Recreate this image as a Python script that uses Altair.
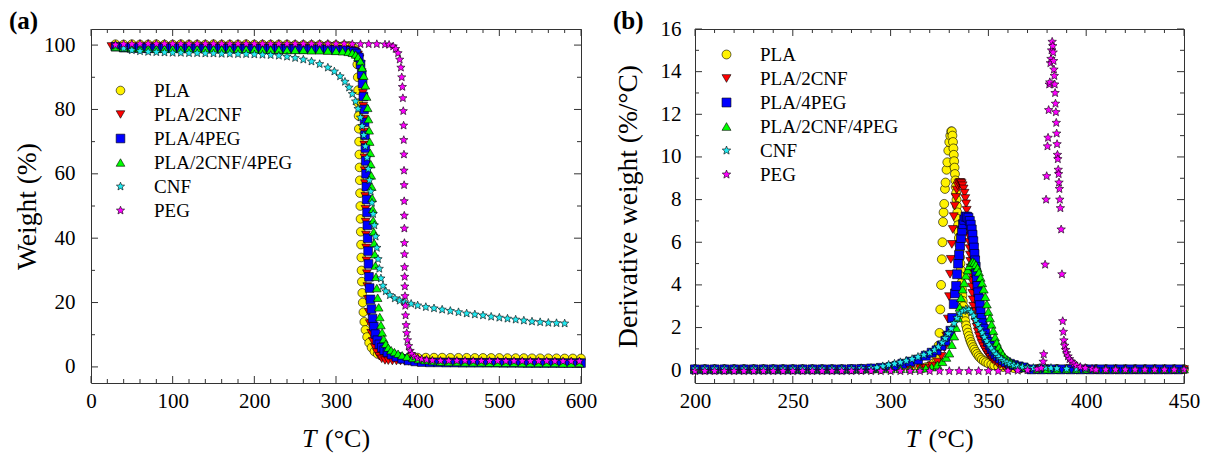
import altair as alt
import pandas as pd

FONT = "Liberation Serif"
SERIES = ["PLA", "PLA/2CNF", "PLA/4PEG", "PLA/2CNF/4PEG", "CNF", "PEG"]
COLORS = ["#FFF200", "#FF0000", "#0000FF", "#00FF00", "#22E8F0", "#FF00FF"]
STAR = "M0,-1L0.26,-0.36L0.951,-0.309L0.42,0.137L0.588,0.809L0,0.44L-0.588,0.809L-0.42,0.137L-0.951,-0.309L-0.26,-0.36Z"
SHAPES = ["circle", "triangle-down", "square", "triangle-up", STAR, STAR]

# ---------------- panel (a): TGA weight (%) vs T ----------------
A_PLA = [(30,100.3),(40,100.2),(50,100.3),(60,100.2),(70,100.2),(80,100.3),(90,100.2),(100,100.2),(110,100.3),(120,100.2),(130,100.2),(140,100.2),(150,100.3),(160,100.2),(170,100.2),(180,100.2),(190,100.3),(200,100.2),(210,100.2),(220,100.2),(230,100.2),(240,100.2),(250,100.1),(260,100.1),(270,100.1),(280,100.1),(290,100.0),(300,100.0),(310,99.9),
 (316,99.8),(320,99.5),(323,98.8),(325,97),(326,94),(326.6,90),(327,86),(327.3,82),(327.6,78),(327.9,74),(328.2,70),(328.5,66),(328.8,62),(329.1,58),(329.4,54),(329.7,50),(330,46),(330.3,42),(330.6,38),(330.9,34),(331.2,30),(331.6,26.5),(332.1,23),(332.7,20),(333.5,17),(334.6,14),(336,11.5),(338,9.3),(340.5,7.5),(343.5,6),(347,4.8),(351,4),(356,3.5),(362,3.2),(370,3.0),
 (380,2.95),(390,2.95),(400,2.9),(410,2.9),(420,2.9),(430,2.9),(440,2.85),(450,2.85),(460,2.85),(470,2.8),(480,2.8),(490,2.8),(500,2.8),(510,2.75),(520,2.75),(530,2.75),(540,2.7),(550,2.7),(560,2.7),(570,2.7),(580,2.65),(590,2.65),(600,2.65)]
A_2CNF = [(25,99.6),(35,99.3),(45,99.3),(55,99.3),(65,99.3),(75,99.3),(85,99.3),(95,99.2),(105,99.2),(115,99.2),(125,99.2),(135,99.2),(145,99.2),(155,99.2),(165,99.2),(175,99.1),(185,99.1),(195,99.1),(205,99.1),(215,99.1),(225,99.1),(235,99.0),(245,99.0),(255,99.0),(265,99.0),(275,98.9),(285,98.9),(295,98.8),(305,98.7),(313,98.6),
 (320,98.3),(324,97.8),(327,97),(329,95.8),(330.5,94),(331.5,91.5),(332.3,88.5),(333,85),(333.5,81),(334,77),(334.3,73),(334.6,69),(334.9,65),(335.2,61),(335.5,57),(335.8,53),(336.1,49),(336.4,45),(336.7,41),(337,37),(337.4,33),(337.8,29),(338.3,25),(339,21),(340,17),(341.3,13.5),(343,10.5),(345,8),(347.5,6),(350,4.5),(353,3.3),(356,2.5),(360,2.0),(364,1.9),(369,1.8),(374,1.8),(379,1.8),(384,1.7),(389,1.7),(394,1.7),(399,1.6),
 (410,1.5),(420,1.5),(430,1.5),(440,1.5),(450,1.4),(460,1.4),(470,1.4),(480,1.4),(490,1.4),(500,1.4),(510,1.3),(520,1.3),(530,1.3),(540,1.3),(550,1.3),(560,1.3),(570,1.3),(580,1.2),(590,1.2)]
A_4PEG = [(30,99.5),(40,99.2),(50,99.1),(60,99.1),(70,99.0),(80,99.0),(90,99.0),(100,99.0),(110,99.0),(120,99.0),(130,99.0),(140,98.9),(150,98.9),(160,98.9),(170,98.9),(180,98.9),(190,98.9),(200,98.9),(210,98.8),(220,98.8),(230,98.8),(240,98.8),(250,98.8),(260,98.7),(270,98.7),(280,98.7),(290,98.6),(300,98.5),(310,98.4),
 (318,98.2),(322,97.9),(325,97.4),(328,96.2),(330,94),(331.5,91),(332.6,88),(333.5,84),(334.3,80),(335,76),(335.5,72),(336,68),(336.4,64),(336.8,60),(337.2,56),(337.6,52),(338,48),(338.4,44),(338.8,40),(339.3,36),(339.8,32),(340.4,28),(341.2,24.5),(342.2,21),(343.4,18),(344.8,15),(346.4,12.5),(348.2,10.2),(350.5,8.3),(353,7),(356,6),(359,5.2),(363,4.5),(368,3.8),(374,3.1),(381,2.5),(389,2.0),(397,1.7),(405,1.5),
 (415,1.4),(425,1.4),(435,1.35),(445,1.35),(455,1.3),(465,1.3),(475,1.3),(485,1.3),(495,1.3),(505,1.25),(515,1.25),(525,1.25),(535,1.2),(545,1.2),(555,1.2),(565,1.2),(575,1.2),(585,1.2),(595,1.2),(600,1.2)]
A_2CNF4PEG = [(30,99.4),(40,99.2),(50,99.1),(60,99.0),(70,99.0),(80,98.9),(90,98.9),(100,98.9),(110,98.8),(120,98.8),(130,98.8),(140,98.8),(150,98.8),(160,98.7),(170,98.7),(180,98.7),(190,98.7),(200,98.7),(210,98.6),(220,98.6),(230,98.6),(240,98.5),(250,98.5),(260,98.5),(270,98.4),(280,98.4),(290,98.3),(300,98.2),(308,98.1),(315,97.9),
 (320,97.6),(324,97.1),(327,96.3),(330,95),(332,93),(334,90.5),(336,87.5),(337.5,84),(338.8,80.5),(339.8,77),(340.6,73.5),(341.3,70),(342,66.5),(342.6,63),(343.2,59.5),(343.8,56),(344.4,52.5),(345,49),(345.6,45.5),(346.2,42),(346.8,38.5),(347.5,35),(348.2,31.5),(349,28),(350,24.5),(351,21.5),(352.3,18.5),(353.6,15.5),(355,13),(356.5,10.7),(358.5,8.7),(361,7.2),(364,6),(367.5,5.2),(371.5,4.6),(376,4.1),(381,3.6),(387,3.2),(394,2.8),(401,2.4),(409,2.1),(418,1.8),
 (428,1.6),(438,1.5),(448,1.5),(458,1.4),(468,1.4),(478,1.4),(488,1.3),(498,1.3),(508,1.3),(518,1.3),(528,1.2),(538,1.2),(548,1.2),(558,1.2),(568,1.2),(578,1.1),(588,1.1),(598,1.1)]
A_CNF = [(30,99.8),(40,99.0),(50,98.4),(60,98.1),(70,97.9),(80,97.8),(90,97.7),(100,97.6),(110,97.6),(120,97.5),(130,97.5),(140,97.4),(150,97.4),(160,97.3),(170,97.3),(180,97.2),(190,97.2),(200,97.1),(210,97.0),(220,96.9),(230,96.7),(240,96.4),(250,96.0),(260,95.5),(270,94.9),(280,94.1),(290,93.0),(298,91.8),(305,90.3),(311,88.6),(316,86.8),(320,84.8),(324,82.5),(327,80.2),(330,77.5),(332,74.8),(334,72),(336,68.5),(338,65),(339.5,61.5),(341,58),(342.5,54.5),(344,51),(345.5,47.5),(347,44),(348.5,40.5),(350,37),(351.5,33.5),(353,30.5),(355,27.5),(357.5,25.2),(361,23.5),(366,22.3),(372,21.3),(378,20.6),(384,20.1),(392,19.6),(400,19.1),(410,18.6),(420,18.2),(430,17.8),(440,17.4),(450,17.0),(460,16.6),(470,16.3),(480,16.0),(490,15.6),(500,15.3),(510,15.0),(520,14.7),(530,14.4),(540,14.1),(550,13.9),(560,13.7),(570,13.6),(580,13.5)]
A_PEG = [(30,100.1),(40,100.3),(50,100.3),(60,100.4),(70,100.4),(80,100.4),(90,100.4),(100,100.4),(110,100.4),(120,100.4),(130,100.4),(140,100.4),(150,100.4),(160,100.4),(170,100.4),(180,100.4),(190,100.4),(200,100.4),(210,100.4),(220,100.4),(230,100.4),(240,100.4),(250,100.4),(260,100.4),(270,100.4),(280,100.4),(290,100.4),(300,100.4),(310,100.4),(320,100.3),(330,100.3),(340,100.3),(350,100.3),(360,100.2),
 (365,100.1),(370,99.6),(373,98.8),(376,97.5),(378,95.5),(379.5,93),(380.5,90),(381.3,87),(381.9,83.5),(382.4,79.5),(382.8,75),(383,70.5),(383.2,66),(383.3,61),(383.4,56.5),(383.5,51.5),(383.6,47),(383.7,43),(383.8,38.5),(383.9,35),(384,31),(384.1,28),(384.3,25),(384.5,22),(384.8,19),(385.2,16),(385.8,13),(386.6,10.5),(387.6,8.3),(389,6.5),(390.8,5),(393,4),(396,3.2),(400,2.7),(405,2.4),(411,2.2),(418,2.0),
 (428,1.9),(438,1.9),(448,1.9),(458,1.9),(468,1.85),(478,1.85),(488,1.85),(498,1.85),(508,1.8),(518,1.8),(528,1.8),(538,1.8),(548,1.8),(558,1.8),(568,1.75),(578,1.75),(588,1.75),(598,1.75)]

# ---------------- panel (b): DTG derivative weight (%/°C) vs T ----------------
B_PLA = [(200,0.05),(205,0.05),(210,0.05),(215,0.05),(220,0.05),(225,0.05),(230,0.05),(235,0.05),(240,0.05),(245,0.05),(250,0.05),(255,0.05),(260,0.05),(265,0.05),(270,0.05),(275,0.05),(280,0.05),(285,0.06),(290,0.06),(295,0.06),(300,0.07),(305,0.08),(310,0.09),(315,0.1),
 (318,0.14),(320,0.2),(322,0.32),(323.5,0.55),(324.5,1.15),(325,1.75),(325.4,2.85),(325.8,4.0),(326.2,5.2),(326.5,6.0),(326.8,6.95),(327.1,7.4),(327.4,7.8),(327.8,8.5),(328.1,8.8),(328.6,9.4),(329,9.75),(329.5,10.3),(330,10.7),(330.5,11.0),(331,11.2),
 (331.3,11.2),(331.6,11.0),(331.9,10.7),(332.1,10.4),(332.3,10.1),(332.5,9.8),(332.7,9.5),(332.9,9.2),(333.1,8.9),(333.3,8.6),(333.5,8.3),(333.7,8.0),(333.9,7.7),(334.1,7.4),(334.3,7.1),(334.5,6.8),(334.7,6.5),(334.9,6.2),(335.1,5.9),(335.3,5.6),(335.5,5.3),(335.7,5.0),(335.9,4.7),(336.1,4.4),(336.3,4.1),(336.5,3.8),(336.7,3.5),(336.9,3.25),(337.2,3.0),(337.5,2.75),(337.8,2.5),(338.2,2.3),(338.6,2.1),(339,1.93),(339.5,1.76),(340,1.6),(340.5,1.45),(341,1.32),(341.6,1.2),(342.2,1.08),(342.8,0.97),(343.5,0.86),(344.2,0.76),(345,0.66),(345.8,0.58),(346.7,0.5),(347.7,0.43),(348.8,0.37),(350,0.32),(351.5,0.27),(353,0.23),(355,0.19),(357.5,0.15),(360,0.12),(363,0.1),(366,0.08),
 (370,0.07),(375,0.06),(380,0.06),(385,0.06),(390,0.06),(395,0.05),(400,0.05),(405,0.05),(410,0.05),(415,0.05),(420,0.05),(425,0.05),(430,0.05),(435,0.05),(440,0.05),(445,0.05),(450,0.05)]
B_2CNF = [(200,0.03),(205,0.03),(210,0.03),(215,0.03),(220,0.03),(225,0.03),(230,0.03),(235,0.03),(240,0.03),(245,0.03),(250,0.03),(255,0.03),(260,0.03),(265,0.03),(270,0.03),(275,0.03),(280,0.03),(285,0.03),(290,0.04),(295,0.04),(300,0.04),(305,0.05),(310,0.06),(315,0.08),
 (318,0.1),(321,0.2),(324,0.38),(326,0.65),(327.5,1.05),(328.5,1.6),(329.3,2.4),(329.9,3.45),(330.4,4.5),(330.8,5.2),(331.3,5.9),(331.8,6.6),(332.3,7.2),(332.8,7.7),(333.3,8.1),(333.8,8.45),(334.3,8.65),(334.8,8.75),(335.3,8.8),(335.8,8.8),(336.3,8.75),(336.8,8.65),(337.3,8.5),(337.8,8.3),(338.2,8.05),(338.6,7.8),(338.9,7.5),(339.2,7.2),(339.5,6.9),(339.8,6.6),(340.0,6.3),(340.2,6.0),(340.4,5.7),(340.6,5.4),(340.8,5.1),(341.0,4.8),(341.2,4.5),(341.4,4.2),(341.6,3.9),(341.8,3.6),(342.0,3.3),(342.3,3.0),(342.6,2.75),(343.0,2.5),(343.5,2.25),(344.0,2.02),(344.6,1.8),(345.2,1.6),(345.9,1.42),(346.6,1.25),(347.4,1.1),(348.2,0.96),(349.1,0.83),(350,0.71),(351,0.6),(352.1,0.5),(353.3,0.41),(354.6,0.33),(356,0.27),(357.6,0.21),(359.4,0.16),(361.5,0.12),(364,0.09),(367,0.07),
 (370,0.03),(375,0.03),(380,0.03),(385,0.03),(390,0.03),(395,0.03),(400,0.03),(405,0.03),(410,0.03),(415,0.03),(420,0.03),(425,0.03),(430,0.03),(435,0.03),(440,0.03),(445,0.03),(450,0.03)]
B_4PEG = [(200,0.04),(205,0.04),(210,0.04),(215,0.04),(220,0.04),(225,0.04),(230,0.04),(235,0.04),(240,0.04),(245,0.04),(250,0.04),(255,0.04),(260,0.04),(265,0.04),(270,0.04),(275,0.04),(280,0.05),(285,0.06),(290,0.08),(295,0.11),(300,0.15),
 (303,0.2),(306,0.3),(310,0.4),(314,0.5),(318,0.68),(321,0.82),(323.5,0.93),(326,1.15),(328,1.38),(329.5,1.62),(330.6,1.85),(331.5,2.45),(332.3,3.1),(332.9,3.6),(333.5,3.95),(334,4.5),(334.5,5.0),(335,5.4),(335.5,5.85),(336,6.2),(336.5,6.55),(337,6.85),(337.6,7.05),(338.3,7.2),(339,7.2),(339.8,7.15),(340.5,7.0),(341,6.82),(341.5,6.6),(341.9,6.35),(342.3,6.05),(342.6,5.75),(342.9,5.45),(343.2,5.15),(343.5,4.85),(343.8,4.55),(344.1,4.25),(344.4,3.95),(344.8,3.65),(345.2,3.35),(345.6,3.05),(346,2.75),(346.5,2.45),(347,2.2),(347.6,1.95),(348.3,1.72),(349,1.52),(349.8,1.33),(350.7,1.16),(351.6,1.0),(352.6,0.87),(353.6,0.75),(354.7,0.65),(356,0.55),(357.5,0.46),(359,0.38),(361,0.3),(363,0.24),(365.5,0.18),(368,0.13),
 (372,0.04),(377,0.04),(382,0.04),(387,0.04),(392,0.04),(397,0.04),(402,0.04),(407,0.04),(412,0.04),(417,0.04),(422,0.04),(427,0.04),(432,0.04),(437,0.04),(442,0.04),(447,0.04)]
B_2CNF4PEG = [(200,0.06),(205,0.06),(210,0.06),(215,0.06),(220,0.06),(225,0.06),(230,0.06),(235,0.06),(240,0.06),(245,0.06),(250,0.06),(255,0.06),(260,0.06),(265,0.06),(270,0.06),(275,0.06),(280,0.06),(285,0.06),(290,0.06),(295,0.06),(300,0.06),(305,0.07),(310,0.07),(315,0.08),
 (318,0.1),(321,0.15),(324,0.25),(326.5,0.4),(328.5,0.6),(330,0.8),(331.3,1.2),(332.5,1.6),(333.5,2.0),(334.5,2.45),(335.3,2.95),(336,3.4),(336.8,3.8),(337.6,4.1),(338.5,4.45),(339.4,4.7),(340.3,4.9),(341.2,5.05),(342,5.1),(342.8,5.05),(343.6,4.95),(344.4,4.8),(345.2,4.6),(346,4.35),(346.8,4.1),(347.6,3.8),(348.4,3.45),(349.2,3.1),(350,2.75),(350.8,2.45),(351.6,2.15),(352.5,1.85),(353.4,1.55),(354.3,1.3),(355.3,1.08),(356.3,0.9),(357.4,0.74),(358.5,0.6),(360,0.47),(361.5,0.37),(363,0.29),(365,0.22),(367,0.17),(369.5,0.12),
 (375,0.05),(380,0.05),(385,0.05),(390,0.05),(395,0.05),(400,0.05),(405,0.05),(410,0.05),(415,0.05),(420,0.05),(425,0.05),(430,0.05),(435,0.05),(440,0.05),(445,0.05),(450,0.05)]
B_CNF = [(200,0.07),(205,0.07),(210,0.07),(215,0.07),(220,0.07),(225,0.07),(230,0.07),(235,0.07),(240,0.07),(245,0.07),(250,0.07),(255,0.07),(260,0.07),(265,0.07),(270,0.07),(275,0.07),(280,0.08),(285,0.09),(290,0.1),
 (293,0.12),(296,0.18),(299,0.25),(302,0.3),(305,0.37),(308,0.44),(311,0.52),(314,0.62),(317,0.72),(320,0.82),(322.5,0.95),(324.5,1.1),(326.5,1.3),(328,1.5),(329.5,1.72),(331,1.95),(332.5,2.2),(334,2.45),(335.5,2.65),(337,2.78),(338.5,2.85),(340,2.83),(341.3,2.72),(342.5,2.55),(343.6,2.35),(344.7,2.15),(345.8,1.95),(346.9,1.75),(348,1.55),(349.2,1.36),(350.4,1.18),(351.6,1.02),(352.8,0.87),(354,0.74),(355.3,0.62),(356.6,0.52),(358,0.43),(359.5,0.36),(361,0.3),(363,0.24),(365,0.19),(367.5,0.15),(370,0.12),(373,0.1),(376,0.1),(379,0.12),(382,0.1),(385,0.08),
 (390,0.06),(395,0.06),(400,0.06),(405,0.06),(410,0.06),(415,0.06),(420,0.06),(425,0.06),(430,0.06),(435,0.06),(440,0.06),(445,0.06),(450,0.06)]
B_PEG = [(200,-0.04),(205,-0.04),(210,-0.04),(215,-0.04),(220,-0.04),(225,-0.04),(230,-0.04),(235,-0.04),(240,-0.04),(245,-0.04),(250,-0.04),(255,-0.04),(260,-0.04),(265,-0.04),(270,-0.04),(275,-0.04),(280,-0.04),(285,-0.04),(290,-0.04),(295,-0.04),(300,-0.04),(305,-0.04),(310,-0.04),(315,-0.04),(320,-0.04),(325,-0.04),(330,-0.04),(335,-0.04),(340,-0.04),(345,-0.04),(350,-0.04),(355,-0.04),(360,-0.03),(365,-0.02),(370,0.0),(375,0.05),
 (377,0.1),(378,0.4),(378.3,0.75),(379,4.95),(379.5,8.0),(379.8,9.1),(380.2,10.5),(380.5,10.9),(380.8,12.2),(381.1,13.4),(381.4,13.5),(381.7,14.4),(382,14.6),(382.3,15.0),(382.6,15.4),(382.9,15.2),(383.1,14.9),(383.3,14.5),(383.5,14.1),(383.7,13.8),(383.9,13.4),(384.1,13.0),(384.3,12.5),(384.5,12.1),(384.7,11.6),(384.9,11.1),(385.1,10.6),(385.3,10.1),(385.5,9.9),(385.7,9.4),(385.9,9.2),(386.1,8.8),(386.3,8.5),(386.5,8.0),(386.8,7.6),(387.2,6.6),(387.6,4.5),(388,2.3),(388.3,1.8),(388.6,1.4),(389,1.15),(389.5,0.95),(390,0.8),(390.7,0.65),(391.5,0.52),(392.5,0.4),(393.7,0.3),(395,0.22),(397,0.15),(399.5,0.1),(403,0.06),
 (405,0.02),(410,0.02),(415,0.02),(420,0.02),(425,0.02),(430,0.02),(435,0.02),(440,0.02),(445,0.02),(450,0.02)]

# ticks / labels
A_X_MAJOR = [0, 100, 200, 300, 400, 500, 600]
A_X_MINOR = [20, 40, 60, 80, 120, 140, 160, 180, 220, 240, 260, 280, 320, 340, 360, 380, 420, 440, 460, 480, 520, 540, 560, 580]
A_Y_MAJOR = [0, 20, 40, 60, 80, 100]
A_Y_MINOR = [10, 30, 50, 70, 90]
B_X_MAJOR = [200, 250, 300, 350, 400, 450]
B_X_MINOR = [210, 220, 230, 240, 260, 270, 280, 290, 310, 320, 330, 340, 360, 370, 380, 390, 410, 420, 430, 440]
B_Y_MAJOR = [0, 2, 4, 6, 8, 10, 12, 14, 16]
B_Y_MINOR = [1, 3, 5, 7, 9, 11, 13, 15]

A_W, A_H = 490, 354
B_W, B_H = 489, 354
A_SIZES = [75, 75, 62, 75, 120, 120]
B_SIZES = [80, 80, 68, 80, 120, 120]


def long_df(groups):
    rows = []
    for name, pts in zip(SERIES, groups):
        for t, v in pts:
            rows.append({"S": name, "T": t, "V": v})
    return pd.DataFrame(rows)


def text_at(txt, x, y, size, weight="normal", style="normal", align="left", baseline="top"):
    return alt.Chart(pd.DataFrame({"k": [0]})).mark_text(
        text=txt, font=FONT, fontSize=size, fontWeight=weight, fontStyle=style,
        align=align, baseline=baseline, color="black"
    ).encode(x=alt.value(x), y=alt.value(y))


def leg(leg_x, leg_y):
    return alt.Legend(orient="none", legendX=leg_x, legendY=leg_y, padding=0,
                      labelFont=FONT, labelFontSize=19, labelColor="black",
                      symbolSize=80, symbolStrokeColor="black", symbolStrokeWidth=0.6,
                      rowPadding=4, labelOffset=24)


def panel(groups, xdom, ydom, xmaj, xmin, ymaj, ymin, W, H, ytitle, ylp, ytp, leg_x, leg_y, letter, sizes):
    df = long_df(groups)
    xs = alt.Scale(domain=xdom, nice=False, zero=False)
    ys = alt.Scale(domain=ydom, nice=False, zero=False)
    xax = alt.Axis(values=xmaj, title="", ticks=False, domain=False, grid=False,
                   labelFont=FONT, labelFontSize=21, labelColor="black",
                   labelPadding=7, labelFlush=False, labelOverlap=False)
    yax = alt.Axis(values=ymaj, title=ytitle, ticks=False, domain=False, grid=False,
                   labelFont=FONT, labelFontSize=21, labelColor="black",
                   labelPadding=ylp, labelFlush=False, labelOverlap=False,
                   titleFont=FONT, titleFontSize=27.5, titleFontWeight="normal",
                   titleColor="black", titlePadding=ytp)
    pts = alt.Chart(df).mark_point(filled=True, stroke="black", strokeWidth=0.6, opacity=1).encode(
        x=alt.X("T:Q", scale=xs, axis=xax),
        y=alt.Y("V:Q", scale=ys, axis=yax),
        color=alt.Color("S:N", scale=alt.Scale(domain=SERIES, range=COLORS), title=None, legend=leg(leg_x, leg_y)),
        shape=alt.Shape("S:N", scale=alt.Scale(domain=SERIES, range=SHAPES), title=None, legend=leg(leg_x, leg_y)),
        size=alt.Size("S:N", scale=alt.Scale(domain=SERIES, range=sizes), legend=None),
    )
    layers = [pts]
    for vals, L in ((xmaj, 7), (xmin, 4)):
        base = alt.Chart(pd.DataFrame({"T": vals}))
        layers.append(base.mark_rule(color="#333333", strokeWidth=1).encode(
            x=alt.X("T:Q", scale=xs, axis=xax), y=alt.value(H), y2=alt.value(H - L)))
        layers.append(base.mark_rule(color="#333333", strokeWidth=1).encode(
            x=alt.X("T:Q", scale=xs, axis=xax), y=alt.value(0), y2=alt.value(L)))
    for vals, L in ((ymaj, 7), (ymin, 4)):
        base = alt.Chart(pd.DataFrame({"V": vals}))
        layers.append(base.mark_rule(color="#333333", strokeWidth=1).encode(
            y=alt.Y("V:Q", scale=ys, axis=yax), x=alt.value(0), x2=alt.value(L)))
        layers.append(base.mark_rule(color="#333333", strokeWidth=1).encode(
            y=alt.Y("V:Q", scale=ys, axis=yax), x=alt.value(W), x2=alt.value(W - L)))
    layers.append(text_at(letter, -82, -20, 25, weight="bold"))
    layers.append(text_at("T", W / 2 - 34, H + 64, 26, style="italic", baseline="alphabetic"))
    layers.append(text_at("(°C)", W / 2 - 11, H + 64, 26, baseline="alphabetic"))
    return alt.layer(*layers).properties(width=W, height=H)


pa = panel([A_PLA, A_2CNF, A_4PEG, A_2CNF4PEG, A_CNF, A_PEG], [0, 600], [-5, 105],
           A_X_MAJOR, A_X_MINOR, A_Y_MAJOR, A_Y_MINOR, A_W, A_H, "Weight (%)", 16, 2, 20, 52, "(a)", A_SIZES)
pb = panel([B_PLA, B_2CNF, B_4PEG, B_2CNF4PEG, B_CNF, B_PEG], [200, 450], [-0.6, 16],
           B_X_MAJOR, B_X_MINOR, B_Y_MAJOR, B_Y_MINOR, B_W, B_H, "Derivative weight (%/°C)", 14, 18, 22, 16, "(b)",
           B_SIZES)

chart = alt.hconcat(pa, pb, spacing=114, bounds="flush").resolve_scale(
    color="independent", shape="independent", size="independent"
).resolve_legend(color="independent", shape="independent").properties(
    padding=0
).configure_view(stroke="#333333", strokeWidth=1)

chart.save("out.html", embed_options={"renderer": "svg", "actions": False})
